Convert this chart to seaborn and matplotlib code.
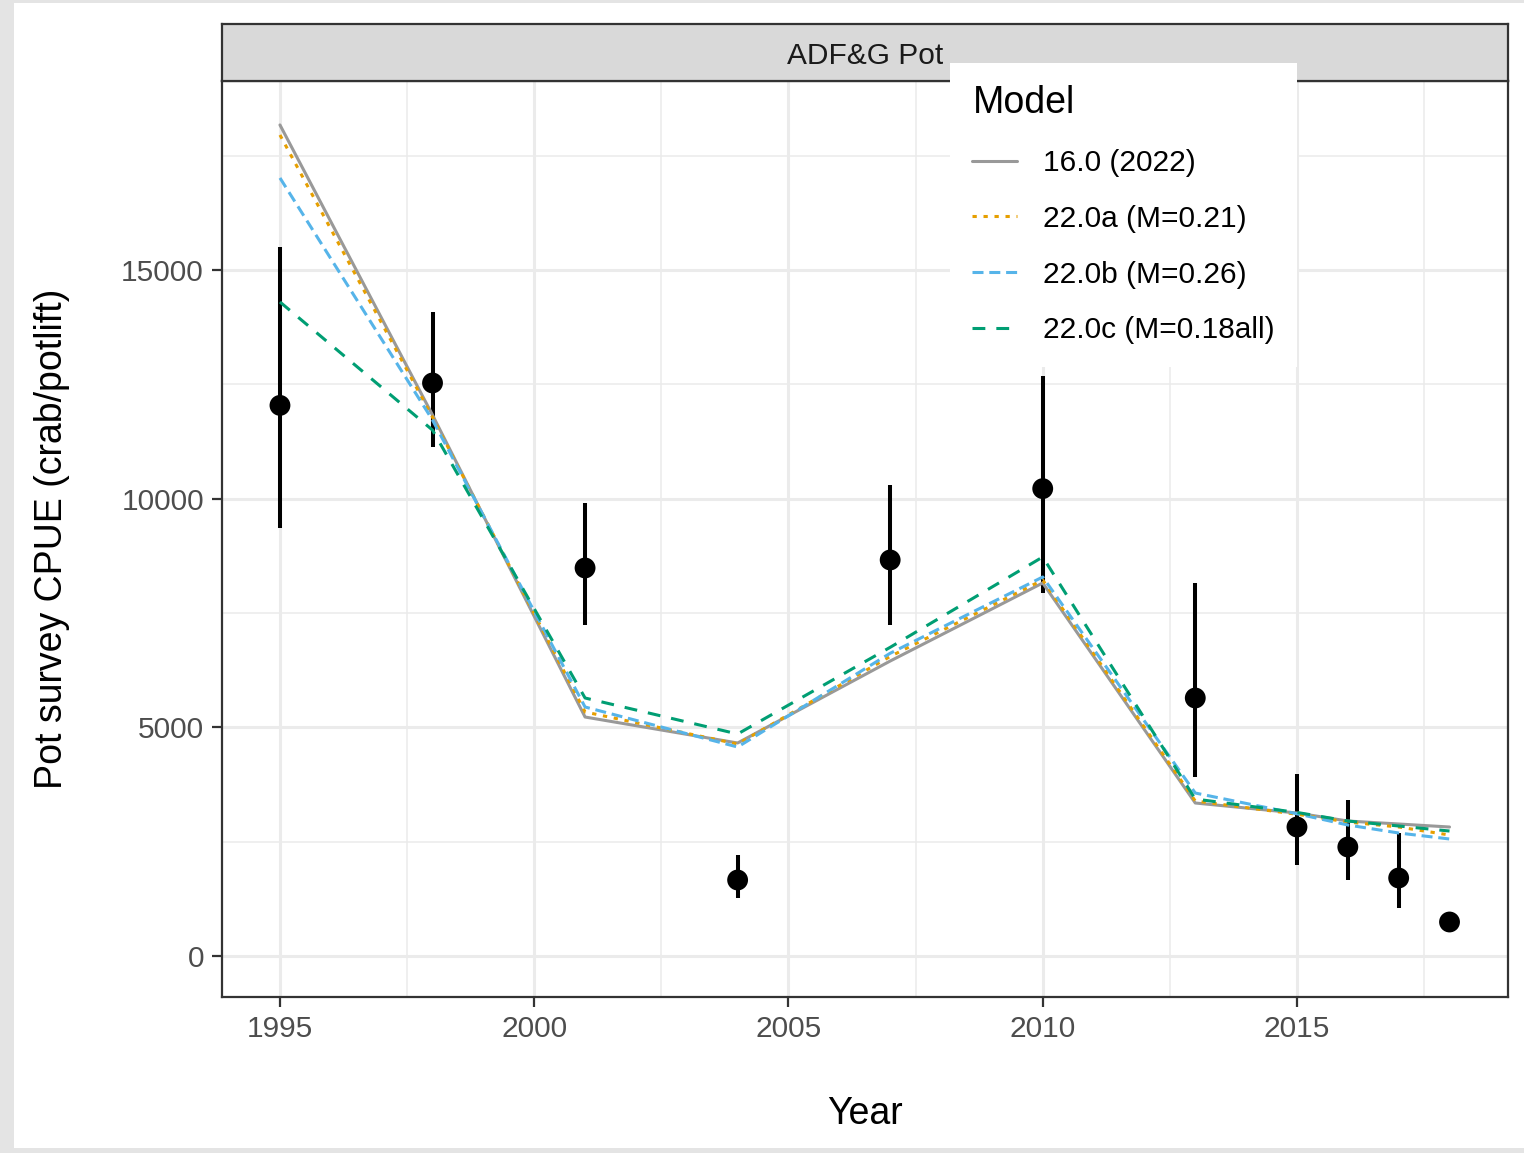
import numpy as np
import pandas as pd
import matplotlib
matplotlib.use("Agg")
import matplotlib.pyplot as plt
import seaborn as sns
from matplotlib.patches import Rectangle

sns.set_theme(style="white")
plt.rcParams['font.family'] = ['Liberation Sans', 'DejaVu Sans']

# ---- data ----
obs_years = [1995, 1998, 2001, 2004, 2007, 2010, 2013, 2015, 2016, 2017, 2018]
obs_cpue = [12040, 12530, 8485, 1662, 8660, 10220, 5642, 2821, 2384, 1706, 744]
obs_lower = [9359, 11140, 7238, 1268, 7238, 7938, 3914, 1980, 1662, 1050, 744]
obs_upper = [15510, 14083, 9906, 2209, 10300, 12683, 8157, 3980, 3411, 2700, 744]

model_years = [1995, 1998, 2001, 2004, 2007, 2010, 2013, 2015, 2016, 2017, 2018]
m16_0 = [18172, 11830, 5226, 4658, 6450, 8157, 3346, 3127, 2952, 2887, 2821]
m22_0a = [17953, 11780, 5336, 4636, 6550, 8222, 3390, 3100, 2930, 2821, 2646]
m22_0b = [17013, 11720, 5445, 4570, 6620, 8288, 3564, 3110, 2865, 2690, 2559]
m22_0c = [14301, 11500, 5642, 4855, 6750, 8725, 3433, 3140, 2952, 2843, 2733]
model_names = ["16.0 (2022)", "22.0a (M=0.21)", "22.0b (M=0.26)", "22.0c (M=0.18all)"]
model_colors = ["#999999", "#E69F00", "#56B4E9", "#009E73"]

rows = []
for name, vals in zip(model_names, [m16_0, m22_0a, m22_0b, m22_0c]):
    for yr, v in zip(model_years, vals):
        rows.append({"Year": yr, "CPUE": v, "Model": name})
mdf = pd.DataFrame(rows)
odf = pd.DataFrame({"Year": obs_years, "CPUE": obs_cpue, "lo": obs_lower, "hi": obs_upper})

W, H = 1524, 1153
fig = plt.figure(figsize=(W / 100, H / 100), dpi=100)
fig.patch.set_facecolor("#e4e4e4")
fig.patches.append(Rectangle((14 / W, 5 / H), 1 - 14 / W, 1 - 8 / H, transform=fig.transFigure,
                             facecolor="white", edgecolor="none", zorder=-5))

pl, pr, pt, pb = 222, 1508, 81, 997
ax = fig.add_axes([pl / W, 1 - pb / H, (pr - pl) / W, (pb - pt) / H])
ax.set_facecolor("white")

# grid
ax.set_xlim(1993.86, 2019.15)
ax.set_ylim(-896, 19133)
ax.set_xticks([1995, 2000, 2005, 2010, 2015])
ax.set_xticks([1997.5, 2002.5, 2007.5, 2012.5, 2017.5], minor=True)
ax.set_yticks([0, 5000, 10000, 15000])
ax.set_yticks([2500, 7500, 12500, 17500], minor=True)
ax.grid(True, which="major", color="#ebebeb", lw=2.2, zorder=0)
ax.grid(True, which="minor", color="#ebebeb", lw=1.1, zorder=0)
ax.set_axisbelow(True)

# observations
ax.vlines(odf["Year"], odf["lo"], odf["hi"], color="black", lw=2.9, zorder=3)
sns.scatterplot(data=odf, x="Year", y="CPUE", color="black", s=225, edgecolor="none",
                ax=ax, zorder=4, legend=False)

# model lines
sns.lineplot(data=mdf, x="Year", y="CPUE", hue="Model", style="Model",
             hue_order=model_names, style_order=model_names,
             palette=dict(zip(model_names, model_colors)),
             dashes={model_names[0]: "", model_names[1]: (1.4, 2.2),
                     model_names[2]: (3.6, 1.9), model_names[3]: (4.2, 3.6)},
             lw=2.2, ax=ax, zorder=5)
handles, labels = ax.get_legend_handles_labels()
if ax.get_legend() is not None:
    ax.get_legend().remove()

for s in ax.spines.values():
    s.set_color("#333333")
    s.set_linewidth(1.6)
ax.tick_params(axis="both", which="major", length=7, width=1.6, color="#333333",
               labelsize=21.5, labelcolor="#4d4d4d", direction="out", pad=6,
               bottom=True, left=True)
ax.tick_params(axis="both", which="minor", length=0)
ax.set_xlabel("Year", fontsize=27, color="black", labelpad=38)
ax.set_ylabel("Pot survey CPUE (crab/potlift)", fontsize=27, color="black", labelpad=37)

# facet strip
sax = fig.add_axes([pl / W, 1 - pt / H, (pr - pl) / W, (pt - 24) / H])
sax.set_facecolor("#d9d9d9")
sax.set_xticks([]); sax.set_yticks([])
for s in sax.spines.values():
    s.set_color("#333333")
    s.set_linewidth(1.6)
sax.text(0.5, 0.44, "ADF&G Pot", ha="center", va="center", fontsize=21.5, color="#1a1a1a",
         transform=sax.transAxes)

# legend
leg = fig.legend(handles, labels, title="Model", loc="upper left",
                 bbox_to_anchor=(950 / W, 1 - 63 / H), bbox_transform=fig.transFigure,
                 fontsize=21.5, title_fontsize=27, frameon=True, fancybox=False,
                 facecolor="white", edgecolor="none", framealpha=1.0,
                 borderaxespad=0, borderpad=0.75, handlelength=1.5, handletextpad=0.85,
                 labelspacing=0.93, alignment="left")
for lh in leg.get_lines():
    lh.set_linewidth(2.2)
for t in leg.get_texts():
    t.set_color("black")
leg.get_title().set_color("black")

fig.savefig("out.png", dpi=100, facecolor=fig.get_facecolor())
